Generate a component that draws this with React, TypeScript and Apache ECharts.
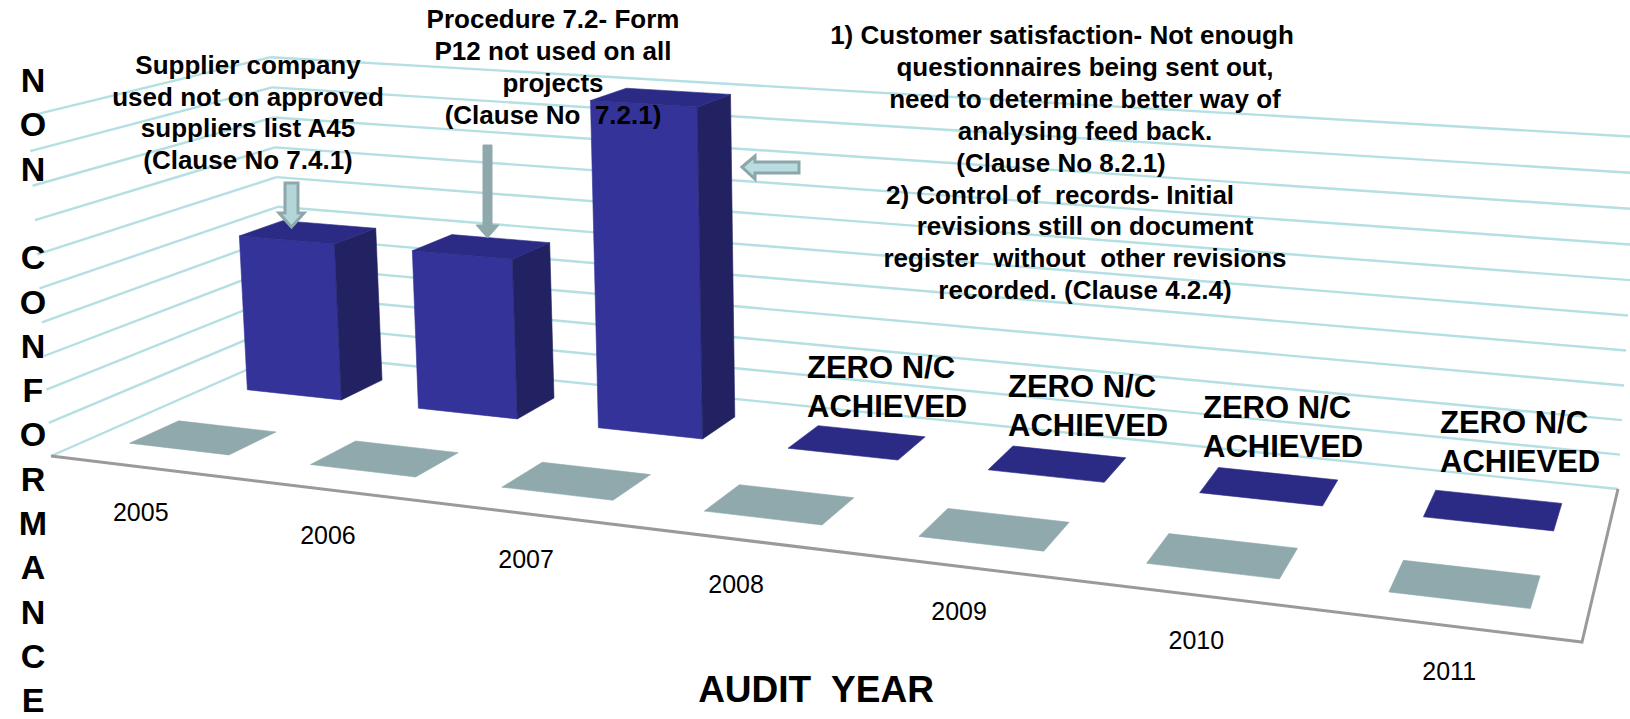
import React, { useEffect, useRef } from 'react';
import * as echarts from 'echarts';

// ---------------- DATA ----------------
const years = ['2005', '2006', '2007', '2008', '2009', '2010', '2011'];
const backRowValues = [1, 1, 2, 0, 0, 0, 0]; // blue series (back row)
const frontRowValues = [0, 0, 0, 0, 0, 0, 0]; // grey series (front row)
const wallLevels = [0, 0.2, 0.4, 0.6, 0.8, 1, 1.2, 1.4, 1.6, 1.8, 2];
const Y_MAX = 2;
const Y_STEP = 0.2;

const note1Lines = ['Supplier company', 'used not on approved', 'suppliers list A45', '(Clause No 7.4.1)'];
const note2Lines = ['Procedure 7.2- Form', 'P12 not used on all', 'projects', '(Clause No  7.2.1)'];
const note3Lines = [
  '1) Customer satisfaction- Not enough',
  'questionnaires being sent out,',
  'need to determine better way of',
  'analysing feed back.',
  '(Clause No 8.2.1)',
  '2) Control of  records- Initial',
  'revisions still on document',
  'register  without  other revisions',
  'recorded. (Clause 4.2.4)',
];
const zeroLabel = 'ZERO N/C\nACHIEVED';
const yAxisTitle = 'NON CONFORMANCE';
const xAxisTitle = 'AUDIT  YEAR';

// ---------------- LAYOUT ----------------
const NCAT = years.length;
const NROWS = 2;
const BAR_W = 0.556; // fraction of category width
const BAR_D = 0.4; // fraction of row depth
const FLOOR_FL = [51, 456];
const FLOOR_FR = [1582, 642];
const FLOOR_BR = [1618, 489];
const FLOOR_BL = [285, 353];
const VANISH = [900, 12900];
const WALL_TOP_Y = 137;
const LABEL_DY = 45;

const FONT = 'Liberation Sans, Arial, Helvetica, sans-serif';
const note1Pos = { x: 248, y0: 65, dy: 31.7 };
const note2Pos = { x: 553, y0: 19, dy: 32 };
const note3X = [1062, 1085, 1085, 1085, 1061, 1060, 1085, 1085, 1085];
const note3Pos = { y0: 35, dy: 31.9 };
const zeroLabelPos = [
  [807, 387],
  [1008, 406],
  [1203, 427],
  [1440, 442],
];

const C_FRONT = '#333399';
const C_TOP = '#2B2B86';
const C_SIDE = '#222262';
const C_GREY = '#8FA9AC';
const C_GREY_FRONT = '#A3BEC1';
const C_GREY_SIDE = '#6F878A';
const C_GRID = '#B4DFE3';
const C_FLOOR = '#9A9A9A';

function makeProjection() {
  const [x0, y0] = FLOOR_FL;
  const [x1, y1] = FLOOR_FR;
  const [x2, y2] = FLOOR_BR;
  const [x3, y3] = FLOOR_BL;
  const dx1 = x1 - x2, dx2 = x3 - x2, dx3 = x0 - x1 + x2 - x3;
  const dy1 = y1 - y2, dy2 = y3 - y2, dy3 = y0 - y1 + y2 - y3;
  const den = dx1 * dy2 - dx2 * dy1;
  const g = (dx3 * dy2 - dx2 * dy3) / den;
  const h = (dx1 * dy3 - dx3 * dy1) / den;
  const a = x1 - x0 + g * x1, b = x3 - x0 + h * x3, c = x0;
  const d = y1 - y0 + g * y1, e = y3 - y0 + h * y3, f = y0;
  const N = d + e + f;
  const W = g + h + 1;
  const k = (N - WALL_TOP_Y * W) / (Y_MAX * (1 - WALL_TOP_Y / VANISH[1]));
  const q = -k / VANISH[1];
  const p = VANISH[0] * q;
  // X in categories, Y in value units, Z in rows
  return (X: number, Y: number, Z: number) => {
    const u = X / NCAT;
    const v = Z / NROWS;
    const w = g * u + h * v + 1 + q * Y;
    return [(a * u + b * v + c + p * Y) / w, (d * u + e * v + f - k * Y) / w];
  };
}

export default function App() {
  const ref = useRef<HTMLDivElement>(null);
  useEffect(() => {
    if (!ref.current) return;
    const chart = echarts.init(ref.current, null, { renderer: 'svg' });
    const P = makeProjection();

    const toWorld = (params: any, api: any, cat: number, val: number) => {
      const cs = params.coordSys;
      const pb = api.coord([cat, 0]);
      const pt = api.coord([cat, val]);
      return {
        X: ((pb[0] - cs.x) / cs.width) * NCAT,
        Y: ((pb[1] - pt[1]) / cs.height) * Y_MAX,
      };
    };

    const poly = (pts: number[][], fill: string) => ({
      type: 'polygon',
      shape: { points: pts },
      style: { fill, stroke: fill, lineWidth: 0.6 },
    });

    const barRenderer = (row: number, front: string, top: string, side: string) => (params: any, api: any) => {
      const { X, Y } = toWorld(params, api, api.value(0), api.value(1));
      const x0 = X - BAR_W / 2, x1 = X + BAR_W / 2;
      const z0 = row + (1 - BAR_D) / 2, z1 = z0 + BAR_D;
      const children: any[] = [];
      if (Y > 0) {
        children.push(poly([P(x0, 0, z0), P(x1, 0, z0), P(x1, Y, z0), P(x0, Y, z0)], front));
        children.push(poly([P(x1, 0, z0), P(x1, 0, z1), P(x1, Y, z1), P(x1, Y, z0)], side));
      }
      children.push(poly([P(x0, Y, z0), P(x1, Y, z0), P(x1, Y, z1), P(x0, Y, z1)], top));
      return { type: 'group', children };
    };

    const wallRenderer = (params: any, api: any) => {
      const { Y } = toWorld(params, api, 0, api.value(1));
      const style = { stroke: C_GRID, lineWidth: 2.4 };
      const b0 = P(0, Y, NROWS), b1 = P(NCAT, Y, NROWS), l0 = P(0, Y, 0);
      return {
        type: 'group',
        children: [
          { type: 'line', shape: { x1: b0[0], y1: b0[1], x2: b1[0], y2: b1[1] }, style },
          { type: 'line', shape: { x1: l0[0], y1: l0[1], x2: b0[0], y2: b0[1] }, style },
        ],
      };
    };

    const floorRenderer = () => {
      const a = P(0, 0, 0), b = P(NCAT, 0, 0), c = P(NCAT, 0, NROWS);
      return {
        type: 'polyline',
        shape: { points: [a, b, c] },
        style: { stroke: C_FLOOR, lineWidth: 3, fill: 'none' },
      };
    };

    const labelRenderer = (params: any, api: any) => {
      const idx = api.value(0);
      const { X } = toWorld(params, api, idx, 0);
      const pt = P(X, 0, 0);
      return {
        type: 'text',
        x: pt[0],
        y: pt[1] + LABEL_DY,
        style: {
          text: years[idx],
          fontSize: 25,
          fontFamily: FONT,
          fill: '#000',
          align: 'center',
          verticalAlign: 'middle',
          textAlign: 'center',
          textVerticalAlign: 'middle',
        },
      };
    };

    const textEl = (text: string, x: number, y: number, size: number, weight: string, align = 'center', lineHeight?: number) => ({
      type: 'text',
      x,
      y,
      z: 10,
      style: {
        text,
        fontSize: size,
        fontWeight: weight,
        fontFamily: FONT,
        fill: '#000',
        align,
        verticalAlign: 'middle',
        textAlign: align,
        textVerticalAlign: 'middle',
        lineHeight: lineHeight || size * 1.2,
      },
    });

    const graphics: any[] = [];
    note1Lines.forEach((t, i) => graphics.push(textEl(t, note1Pos.x, note1Pos.y0 + i * note1Pos.dy, 26, 'bold')));
    note2Lines.forEach((t, i) => graphics.push(textEl(t, note2Pos.x, note2Pos.y0 + i * note2Pos.dy, 26, 'bold')));
    note3Lines.forEach((t, i) => graphics.push(textEl(t, note3X[i], note3Pos.y0 + i * note3Pos.dy, 26, 'bold')));
    zeroLabelPos.forEach(([x, y]) => graphics.push(textEl(zeroLabel, x, y, 31, 'bold', 'left', 39)));
    yAxisTitle.split('').forEach((ch, i) => {
      if (ch !== ' ') graphics.push(textEl(ch, 33, 80 + i * 44.3, 34, 'bold'));
    });
    graphics.push(textEl(xAxisTitle, 816, 689, 37, 'bold'));

    // arrows
    graphics.push({
      type: 'polygon',
      z: 9,
      shape: { points: [[285, 183], [298, 183], [298, 213], [304, 213], [291.5, 227], [279, 213], [285, 213]] },
      style: { fill: '#B4D6D9', stroke: '#8DA7AA', lineWidth: 3 },
    });
    graphics.push({
      type: 'polygon',
      z: 9,
      shape: { points: [[483, 145], [492, 145], [492, 225], [499, 225], [487.5, 238], [476, 225], [483, 225]] },
      style: { fill: '#8FA8AB', stroke: '#8FA8AB', lineWidth: 1 },
    });
    graphics.push({
      type: 'polygon',
      z: 9,
      shape: { points: [[742, 167], [755, 156], [755, 162], [799, 162], [799, 173], [755, 173], [755, 179]] },
      style: { fill: '#B8DCDF', stroke: '#8DA6A9', lineWidth: 3 },
    });

    const option: any = {
      animation: false,
      backgroundColor: '#ffffff',
      grid: { left: 100, top: 100, width: 700, height: 300, show: false },
      xAxis: { type: 'category', data: years, show: false },
      yAxis: { type: 'value', min: 0, max: Y_MAX, interval: Y_STEP, show: false },
      series: [
        {
          type: 'custom',
          name: 'walls',
          z: 1,
          clip: false,
          silent: true,
          renderItem: wallRenderer,
          data: wallLevels.map((l) => [0, l]),
        },
        {
          type: 'custom',
          name: 'floor',
          z: 2,
          clip: false,
          silent: true,
          renderItem: floorRenderer,
          data: [[0, 0]],
        },
        {
          type: 'custom',
          name: 'Series2',
          z: 3,
          clip: false,
          renderItem: barRenderer(1, C_FRONT, C_TOP, C_SIDE),
          data: backRowValues.map((v, i) => [i, v]),
        },
        {
          type: 'custom',
          name: 'Series1',
          z: 4,
          clip: false,
          renderItem: barRenderer(0, C_GREY_FRONT, C_GREY, C_GREY_SIDE),
          data: frontRowValues.map((v, i) => [i, v]),
        },
        {
          type: 'custom',
          name: 'labels',
          z: 5,
          clip: false,
          silent: true,
          renderItem: labelRenderer,
          data: years.map((_, i) => [i, 0]),
        },
      ],
      graphic: { elements: graphics },
    };
    chart.setOption(option);
    return () => chart.dispose();
  }, []);
  return (
    <div
      ref={ref}
      style={{ position: 'absolute', left: 0, top: 0, width: 1630, height: 719, background: '#fff' }}
    />
  );
}
